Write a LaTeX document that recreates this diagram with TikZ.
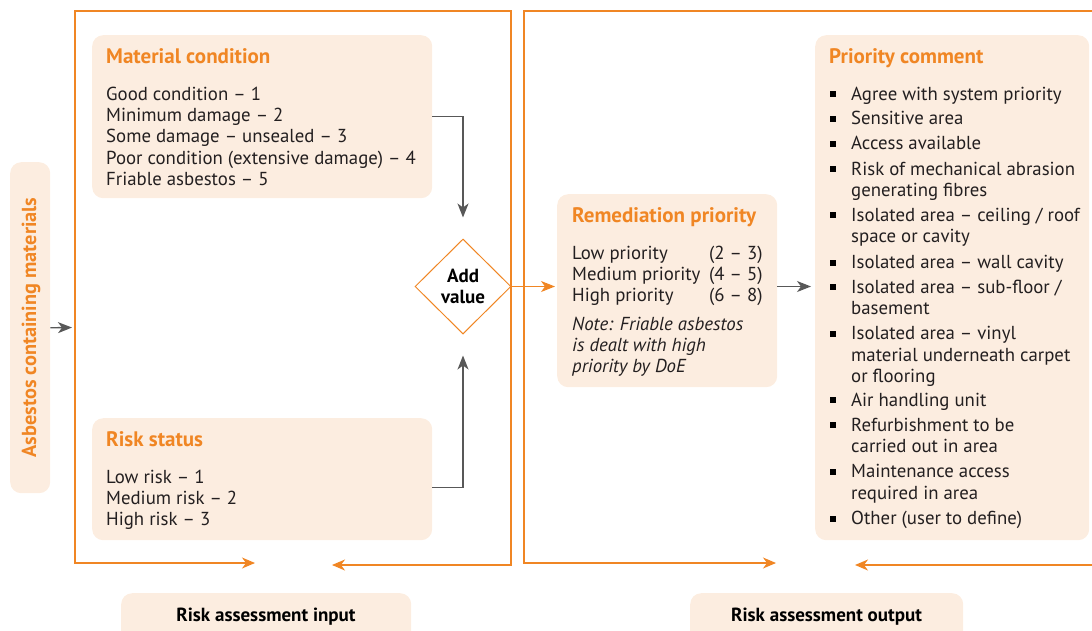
\documentclass[tikz,border=0pt]{standalone}
\usepackage{fontspec}
\setmainfont{PT Sans}
\usetikzlibrary{shapes.geometric,arrows.meta}
\definecolor{org}{RGB}{240,134,36}
\definecolor{peach}{RGB}{252,237,224}
\definecolor{arrgray}{RGB}{88,88,88}
\definecolor{txt}{RGB}{35,31,32}
\tikzset{
  pbox/.style={fill=peach, draw=none, rounded corners=11pt, anchor=north west, inner sep=0pt},
  body/.style={font=\fontsize{18.8}{21.3}\selectfont, text=txt, align=left, anchor=north west, inner sep=0pt},
  ttl/.style={font=\fontsize{21}{22}\selectfont\bfseries, text=org, anchor=base west, inner sep=0pt},
  lbl/.style={font=\fontsize{19}{21}\selectfont\bfseries, text=black, anchor=base, inner sep=0pt},
  frameline/.style={draw=org, line width=1.3pt, -{Stealth[length=13pt,width=11pt,inset=4pt]}},
  garrow/.style={draw=arrgray, line width=1.3pt, -{Stealth[length=14pt,width=11pt,inset=4pt]}},
  oarrow/.style={draw=org, line width=1.3pt, -{Stealth[length=14pt,width=11pt,inset=4pt]}},
  sqbullet/.style={fill=black, draw=none, minimum size=6pt, inner sep=0pt, anchor=center},
}
\newcommand{\bl}{\strut}
\begin{document}
\begin{tikzpicture}[x=1pt,y=-1pt]
\useasboundingbox (0,0) rectangle (1092,630);
\clip (0,0) rectangle (1092,630);

% ---- frames ----
\coordinate (inL) at (255,563);
\coordinate (inR) at (332,565);
\coordinate (outL) at (776,563);
\coordinate (outR) at (855,565);
\coordinate (lfr) at (75,327.5);
\draw[frameline] (300,11) -| (75,563) -- (inL);
\draw[frameline] (300,11) -| (511,565) -- (inR);
\draw[frameline] (800,11) -| (524,563) -- (outL);
\draw[frameline] (800,11) -| (1100,565) -- (outR);

% ---- asbestos box ----
\node[pbox, minimum width=40pt, minimum height=331pt] (ac) at (10,162) {};
\node[font=\fontsize{20.3}{22}\selectfont\bfseries, text=org, rotate=90, inner sep=0pt] (act) at (31,327.5) {Asbestos containing materials};
\draw[garrow, shorten >=3pt] (ac.east) -- (lfr);

% ---- material condition ----
\node[pbox, minimum width=340pt, minimum height=163pt] (mc) at (92,35) {};
\node[ttl] (mct) at (106,63) {Material condition};
\node[body] (mcb) at (106,85.1) {\bl Good condition – 1\\Minimum damage – 2\\Some damage – unsealed – 3\\Poor condition (extensive damage) – 4\\Friable asbestos – 5};

% ---- risk status ----
\node[pbox, minimum width=340pt, minimum height=122pt] (rs) at (92,418) {};
\node[ttl] (rst) at (106,446) {Risk status};
\node[body] (rsb) at (106,468.1) {\bl Low risk – 1\\Medium risk – 2\\High risk – 3};

% ---- add value diamond ----
\node[diamond, draw=org, line width=1pt, fill=white, minimum width=96pt, minimum height=95pt, inner sep=0pt,
      font=\fontsize{19}{21}\selectfont\bfseries, align=center] (dv) at (463,286.5) {Add\\value};

\draw[garrow, shorten >=21pt] (mc.east) -| (dv.north);
\draw[garrow, shorten >=21pt] ([yshift=-8pt]rs.east) -| (dv.south);

% ---- remediation priority ----
\node[pbox, minimum width=220pt, minimum height=193pt] (rp) at (557,194) {};
\node[ttl] (rpt) at (572,222) {Remediation priority};
\node[body] (rpb) at (572,244.1) {\bl Low priority\\Medium priority\\High priority};
\node[body] (rpv) at (709,244.1) {\bl (2 – 3)\\(4 – 5)\\(6 – 8)};
\node[body, font=\fontsize{18.8}{21.3}\selectfont\itshape] (rpn) at (572,315.1) {\bl Note: Friable asbestos\\is dealt with high\\priority by DoE};

\draw[oarrow, shorten >=2pt] (dv.east) -- (dv.east -| rp.west);

% ---- priority comment ----
\node[pbox, minimum width=274pt, minimum height=505pt] (pc) at (815,35) {};
\node[ttl] (pct) at (829,63) {Priority comment};
\draw[garrow, shorten >=4pt] (dv.east -| rp.east) -- (dv.east -| pc.west);

\foreach \yy/\tx [count=\i] in {
  100/{Agree with system priority},
  124.5/{Sensitive area},
  149.5/{Access available},
  175/{Risk of mechanical abrasion\\generating fibres},
  221/{Isolated area – ceiling / roof\\space or cavity},
  268.5/{Isolated area – wall cavity},
  293/{Isolated area – sub-floor /\\basement},
  339.5/{Isolated area – vinyl\\material underneath carpet\\or flooring},
  406/{Air handling unit},
  431/{Refurbishment to be\\carried out in area},
  477.5/{Maintenance access\\required in area},
  524.5/{Other (user to define)}}{
  \node[sqbullet] (pb\i) at (833,\yy-6) {};
  \node[body] (pi\i) at (851,\yy-14.91) {\bl\tx};
}

% ---- bottom labels ----
\node[pbox, minimum width=290pt, minimum height=60pt] (rai) at (121,593) {};
\node[lbl] (rait) at (266,621) {Risk assessment input};
\node[pbox, minimum width=273pt, minimum height=60pt] (rao) at (690,593) {};
\node[lbl] (raot) at (826.5,621) {Risk assessment output};
\end{tikzpicture}
\end{document}
